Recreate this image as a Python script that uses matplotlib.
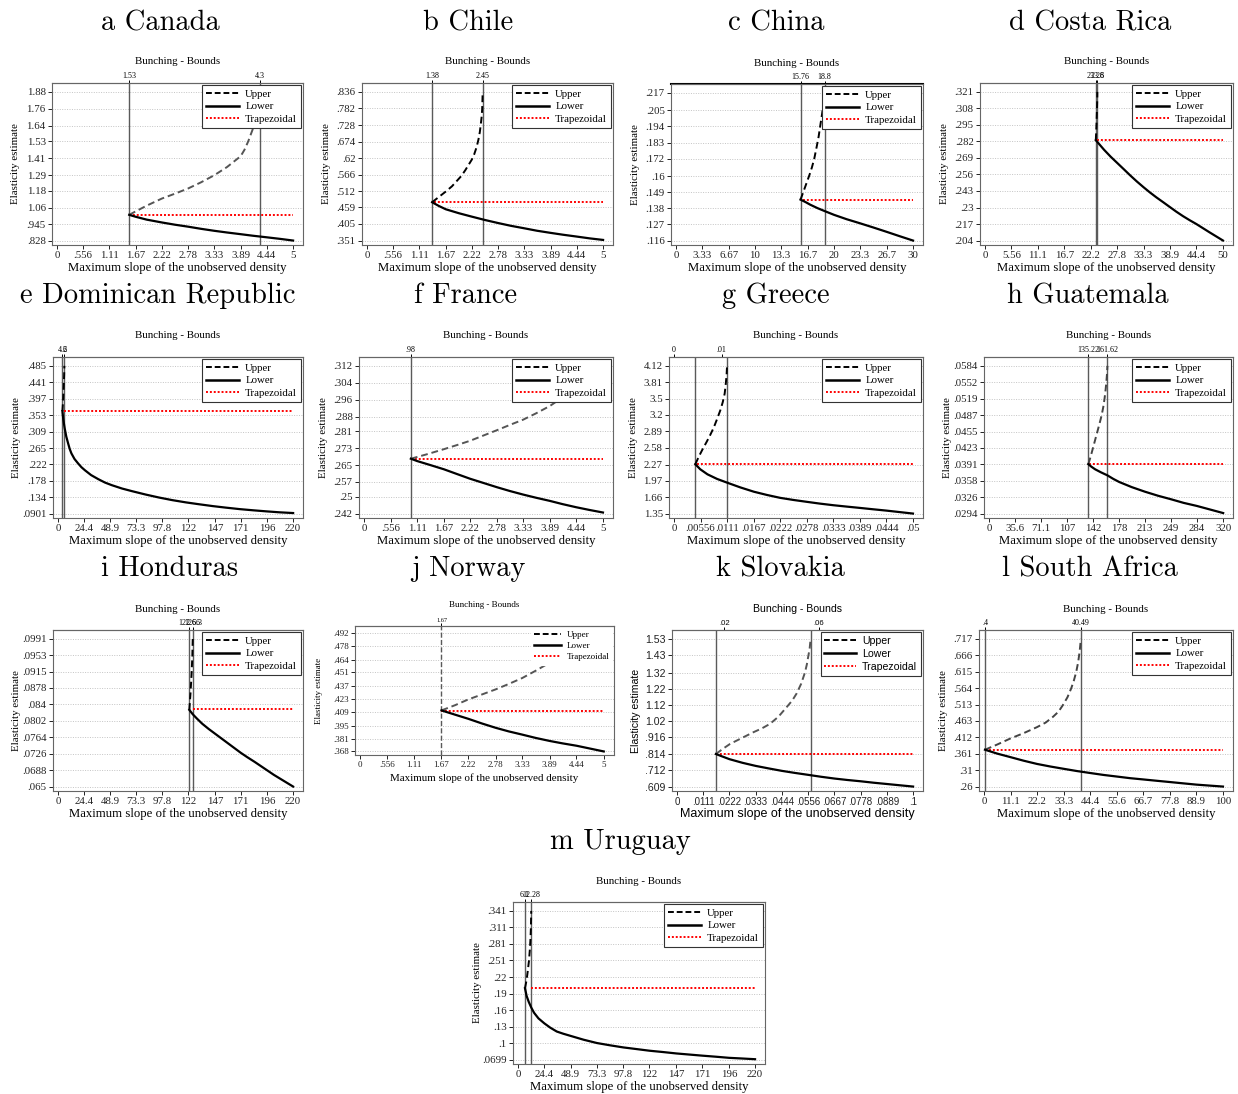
import matplotlib.pyplot as plt
from matplotlib.lines import Line2D

W, H = 1238, 1094

# ---------------- values ----------------
x_five = ["0", ".556", "1.11", "1.67", "2.22", "2.78", "3.33", "3.89", "4.44", "5"]
x_220 = ["0", "24.4", "48.9", "73.3", "97.8", "122", "147", "171", "196", "220"]

# a Canada
can_y = ["1.88", "1.76", "1.64", "1.53", "1.41", "1.29", "1.18", "1.06", ".945", ".828"]
can_bounds = [1.53, 4.3]
can_top = ["1.53", "4.3"]
can_up = [(1.53, 1.01), (1.67, 1.035), (1.9, 1.075), (2.22, 1.125), (2.5, 1.16),
          (2.78, 1.197), (3.05, 1.24), (3.33, 1.29), (3.6, 1.348), (3.89, 1.425),
          (3.97, 1.47), (4.05, 1.53), (4.15, 1.62), (4.25, 1.76), (4.3, 1.88)]
can_lo = [(1.53, 1.01), (1.67, .996), (1.9, .976), (2.22, .956), (2.5, .94),
          (2.78, .926), (3.05, .911), (3.33, .897), (3.6, .885), (3.89, .873),
          (4.15, .862), (4.44, .851), (4.72, .84), (5, .828)]
can_trap = 1.01

# b Chile
chi_y = [".836", ".782", ".728", ".674", ".62", ".566", ".512", ".459", ".405", ".351"]
chi_bounds = [1.38, 2.45]
chi_top = ["1.38", "2.45"]
chi_up = [(1.38, .476), (1.52, .493), (1.67, .511), (1.8, .528), (1.9, .545),
          (2.0, .562), (2.08, .58), (2.16, .6), (2.22, .615), (2.27, .632),
          (2.32, .655), (2.36, .68), (2.39, .705), (2.41, .73), (2.43, .757),
          (2.44, .78), (2.45, .836)]
chi_lo = [(1.38, .476), (1.52, .464), (1.67, .453), (1.95, .44), (2.22, .429),
          (2.5, .418), (2.78, .408), (3.05, .399), (3.33, .391), (3.6, .383),
          (3.89, .376), (4.15, .37), (4.44, .364), (4.72, .358), (5, .353)]
chi_trap = .476

# c China
chn_x = ["0", "3.33", "6.67", "10", "13.3", "16.7", "20", "23.3", "26.7", "30"]
chn_y = [".217", ".205", ".194", ".183", ".172", ".16", ".149", ".138", ".127", ".116"]
chn_bounds = [15.76, 18.8]
chn_top = ["15.76", "18.8"]
chn_up = [(15.76, .144), (16.1, .149), (16.5, .155), (16.9, .161), (17.2, .166),
          (17.5, .172), (17.8, .18), (18.05, .187), (18.3, .196), (18.5, .203),
          (18.65, .209), (18.75, .213), (18.8, .217)]
chn_lo = [(15.76, .144), (16.4, .1423), (17, .1405), (17.9, .1382), (18.8, .1362),
          (20, .1336), (21.6, .1306), (23.3, .1278), (25, .1249), (26.7, .1219),
          (28.3, .119), (30, .116)]
chn_trap = .144

# d Costa Rica
cri_x = ["0", "5.56", "11.1", "16.7", "22.2", "27.8", "33.3", "38.9", "44.4", "50"]
cri_y = [".321", ".308", ".295", ".282", ".269", ".256", ".243", ".23", ".217", ".204"]
cri_bounds = [23.28, 23.6]
cri_top = ["23.28", "23.6"]
cri_up = [(23.28, .283), (23.42, .295), (23.52, .307), (23.58, .315), (23.6, .321)]
cri_lo = [(23.28, .283), (24.2, .279), (25, .2755), (26.4, .27), (27.8, .265),
          (29.2, .26), (30.5, .2553), (31.9, .2505), (33.3, .246), (34.6, .242),
          (36, .238), (37.5, .234), (38.9, .2302), (40.2, .2267), (41.6, .2232),
          (43, .22), (44.4, .217), (45.8, .2137), (47.2, .2104), (48.6, .2072), (50, .204)]
cri_trap = .283

# e Dominican Republic
dom_y = [".485", ".441", ".397", ".353", ".309", ".265", ".222", ".178", ".134", ".0901"]
dom_bounds = [4.2, 6.0]
dom_top = ["4.2", "6"]
dom_up = [(4.2, .364), (4.8, .39), (5.4, .43), (5.8, .46), (6, .485)]
dom_lo = [(4.2, .364), (5, .342), (6.3, .318), (7.8, .296), (9.5, .278), (11, .263),
          (12.6, .251), (15.5, .236), (18.9, .224), (22, .214), (25.2, .206),
          (31, .193), (37.8, .182), (44, .173), (50.4, .166), (60, .157), (69.3, .15),
          (82, .141), (94.5, .133), (107, .126), (119.7, .12), (132, .115), (145, .11),
          (157, .106), (170, .102), (182, .099), (195, .096), (207, .0935), (220, .0915)]
dom_trap = .364

# f France
fra_y = [".312", ".304", ".296", ".288", ".281", ".273", ".265", ".257", ".25", ".242"]
fra_bounds = [0.98]
fra_top = [".98"]
fra_up = [(0.98, .268), (1.3, .270), (1.67, .2725), (1.95, .2745), (2.22, .2765),
          (2.5, .279), (2.78, .2815), (3.05, .284), (3.33, .2865), (3.6, .2895),
          (3.89, .293), (4.15, .297), (4.44, .301), (4.72, .3055), (5, .31)]
fra_lo = [(0.98, .268), (1.11, .2669), (1.4, .2649), (1.67, .263), (1.95, .2607),
          (2.22, .2585), (2.5, .2565), (2.78, .2545), (3.05, .2527), (3.33, .251),
          (3.6, .2495), (3.89, .248), (4.15, .2465), (4.44, .245), (4.72, .2437),
          (5, .2425)]
fra_trap = .268

# g Greece
grc_x = ["0", ".00556", ".0111", ".0167", ".0222", ".0278", ".0333", ".0389", ".0444", ".05"]
grc_y = ["4.12", "3.81", "3.5", "3.2", "2.89", "2.58", "2.27", "1.97", "1.66", "1.35"]
grc_bounds = [.00446, .0111]
grc_top = ["0", ".01"]
grc_up = [(.00446, 2.275), (.0052, 2.42), (.006, 2.56), (.0068, 2.69), (.0075, 2.81),
          (.0083, 2.96), (.009, 3.12), (.0097, 3.29), (.0102, 3.44), (.0106, 3.6),
          (.0108, 3.755), (.011, 3.95), (.0111, 4.12)]
grc_lo = [(.00446, 2.275), (.0055, 2.18), (.007, 2.086), (.009, 2.0), (.0111, 1.93),
          (.0139, 1.84), (.0167, 1.76), (.0194, 1.70), (.0222, 1.645), (.025, 1.605),
          (.0278, 1.57), (.0305, 1.537), (.0333, 1.507), (.0361, 1.481), (.0389, 1.456),
          (.0416, 1.431), (.0444, 1.406), (.0472, 1.378), (.05, 1.35)]
grc_trap = 2.275

# h Guatemala
gtm_x = ["0", "35.6", "71.1", "107", "142", "178", "213", "249", "284", "320"]
gtm_y = [".0584", ".0552", ".0519", ".0487", ".0455", ".0423", ".0391", ".0358", ".0326", ".0294"]
gtm_bounds = [135.8, 161.9]
gtm_top = ["135.22", "161.62"]
gtm_up = [(135.8, .0391), (139, .0406), (142, .0422), (145, .0438), (148, .0454),
          (151, .047), (154, .0487), (156.2, .0503), (158, .052), (159.4, .0537),
          (160.5, .0553), (161.3, .0568), (161.9, .0584)]
gtm_lo = [(135.8, .0391), (140, .0386), (145, .0381), (153, .0375), (161.9, .0369),
          (170, .0362), (178, .0356), (195, .0346), (213, .0337), (231, .0329),
          (249, .0322), (266, .0315), (284, .0309), (302, .0302), (320, .0295)]
gtm_trap = .0391

# i Honduras
hnd_y = [".0991", ".0953", ".0915", ".0878", ".084", ".0802", ".0764", ".0726", ".0688", ".065"]
hnd_bounds = [122.9, 126.1]
hnd_top = ["122.66", "126.3"]
hnd_up = [(122.9, .0827), (124, .0865), (125, .091), (125.7, .095), (126.1, .0991)]
hnd_lo = [(122.9, .0827), (126.1, .0817), (130, .0807), (135, .0795), (141, .0783),
          (147, .0772), (153, .0761), (159, .075), (165, .0739), (171, .0728),
          (177, .0718), (184, .0707), (190, .0697), (196, .0687), (202, .0677),
          (208, .0668), (214, .0659), (220, .065)]
hnd_trap = .0829

# j Norway
nor_y = [".492", ".478", ".464", ".451", ".437", ".423", ".409", ".395", ".381", ".368"]
nor_bounds = [1.67]
nor_top = ["1.67"]
nor_up = [(1.67, .411), (1.95, .4165), (2.22, .4225), (2.5, .4277), (2.78, .433),
          (3.05, .4387), (3.33, .445), (3.6, .4525), (3.89, .461), (4.44, .476),
          (5, .492)]
nor_lo = [(1.67, .411), (1.95, .4065), (2.22, .4022), (2.5, .3973), (2.78, .3928),
          (3.05, .389), (3.33, .3856), (3.6, .3822), (3.89, .379), (4.15, .3765),
          (4.44, .374), (4.72, .371), (5, .368)]
nor_trap = .410

# k Slovakia
svk_x = ["0", ".0111", ".0222", ".0333", ".0444", ".0556", ".0667", ".0778", ".0889", ".1"]
svk_y = ["1.53", "1.43", "1.32", "1.22", "1.12", "1.02", ".916", ".814", ".712", ".609"]
svk_bounds = [.0165, .0566]
svk_top = [".02", ".06"]
svk_up = [(.0165, .812), (.0195, .845), (.0225, .875), (.0275, .912), (.0324, .948),
          (.036, .972), (.0394, 1.0), (.043, 1.045), (.0465, 1.105), (.0488, 1.145),
          (.0507, 1.19), (.0526, 1.25), (.0542, 1.32), (.055, 1.37), (.0556, 1.42),
          (.0562, 1.47), (.0566, 1.53)]
svk_lo = [(.0165, .812), (.0195, .795), (.0222, .78), (.0278, .757), (.0333, .738),
          (.0389, .722), (.0444, .707), (.05, .694), (.0556, .682), (.0611, .67),
          (.0667, .659), (.0722, .65), (.0778, .642), (.0833, .633), (.0889, .625),
          (.0944, .617), (.1, .609)]
svk_trap = .81

# l South Africa
zaf_x = ["0", "11.1", "22.2", "33.3", "44.4", "55.6", "66.7", "77.8", "88.9", "100"]
zaf_y = [".717", ".666", ".615", ".564", ".513", ".463", ".412", ".361", ".31", ".26"]
zaf_bounds = [0.4, 40.49]
zaf_top = [".4", "40.49"]
zaf_up = [(.4, .374), (5.5, .39), (11.1, .409), (16.5, .425), (22.2, .444),
          (25.8, .458), (28.9, .476), (31.2, .492), (33, .512), (34.9, .536),
          (36.5, .564), (37.6, .588), (38.6, .615), (39.4, .645), (40, .677),
          (40.3, .698), (40.49, .717)]
zaf_lo = [(.4, .374), (5.5, .362), (11.1, .351), (16.6, .34), (22.2, .33),
          (27.8, .322), (33.3, .315), (38.9, .308), (44.4, .302), (50, .296),
          (55.6, .291), (61.1, .286), (66.7, .282), (72.2, .278), (77.8, .274),
          (83.3, .27), (88.9, .266), (94.4, .263), (100, .26)]
zaf_trap = .374

# m Uruguay
ury_y = [".341", ".311", ".281", ".251", ".22", ".19", ".16", ".13", ".1", ".0699"]
ury_bounds = [6.5, 12.3]
ury_top = ["6.1", "12.28"]
ury_up = [(6.5, .2), (8, .215), (9, .23), (10.2, .25), (11, .27), (11.6, .29),
          (12, .31), (12.3, .341)]
ury_lo = [(6.5, .2), (8, .186), (10, .175), (12.5, .164), (15, .155), (19, .145),
          (24.4, .136), (30, .128), (36, .121), (42, .117), (48.9, .113), (61, .106),
          (73.3, .1), (85, .096), (97.8, .092), (110, .089), (122, .086), (135, .0835),
          (147, .081), (159, .079), (171, .077), (184, .075), (196, .073), (208, .0718),
          (220, .0705)]
ury_trap = .2

fig = plt.figure(figsize=(W / 100, H / 100), dpi=100)


def fx(px):
    return px / W


def fy(py):
    return 1 - py / H


def panel(title, tpos, box, xt, yt, bounds, top_lab, up, lo, trap, trap_x0,
          up_col='black', font='Liberation Serif', fs=7.8, xfs=None, vdash=False,
          leg_frame=True, top_black=False):
    l, t, r, b = box
    ax = fig.add_axes([fx(l), fy(b), (r - l) / W, (b - t) / H])
    xv = [float(s) for s in xt]
    yv = [float(s) for s in yt]
    x0, x1 = min(xv), max(xv)
    y0, y1 = min(yv), max(yv)
    ax.set_xlim(x0 - .021 * (x1 - x0), x1 + .042 * (x1 - x0))
    ax.set_ylim(y0 - .03 * (y1 - y0), y1 + .06 * (y1 - y0))

    for y in yv:
        ax.axhline(y, color='#c4c4c4', lw=0.7, ls=(0, (1, 1.5)), zorder=0)
    for v in bounds:
        ax.axvline(v, color='#5a5a5a', lw=1.0, ls='--' if vdash else '-', zorder=1)

    ax.plot([trap_x0, x1], [trap, trap], color='red', lw=1.4, ls=(0, (1, 1)), zorder=2)
    ax.plot([p[0] for p in up], [p[1] for p in up], color=up_col, lw=1.4,
            ls=(0, (3.5, 2)), zorder=3)
    ax.plot([p[0] for p in lo], [p[1] for p in lo], color='black', lw=1.6, zorder=3)

    ax.set_xticks(xv, xt, fontsize=xfs or fs, family=font)
    ax.set_yticks(yv, yt, fontsize=fs, family=font)
    ax.tick_params(length=3, width=0.7, pad=1.5, colors='#222')
    for s in ax.spines.values():
        s.set_color('#666')
        s.set_linewidth(0.8)

    top = ax.secondary_xaxis('top')
    top.set_xticks([float(s) for s in top_lab], top_lab, fontsize=fs - 2, family=font)
    top.tick_params(length=2, width=0.7, pad=0.5)
    if top_black:
        top.spines['top'].set_color('black')
        top.spines['top'].set_linewidth(1.5)
    else:
        top.spines['top'].set_color('#666')

    cx = (l + r) / 2
    fig.text(fx(cx), fy(t - 21), 'Bunching - Bounds', ha='center', va='center',
             fontsize=fs, family=font)
    fig.text(fx(cx), fy(b + 23), 'Maximum slope of the unobserved density',
             ha='center', va='center', fontsize=fs + 1.4, family=font)
    fig.text(fx(l - 36), fy((t + b) / 2), 'Elasticity estimate', ha='center',
             va='center', rotation=90, fontsize=fs, family=font)
    fig.text(fx(tpos[0]), fy(tpos[1] + 3), title, ha='center', va='center',
             fontsize=20.5, family='cmr10')

    handles = [Line2D([], [], color='black', lw=1.4, ls=(0, (3, 1.5))),
               Line2D([], [], color='black', lw=1.8),
               Line2D([], [], color='red', lw=1.4, ls=(0, (1, 1)))]
    leg = ax.legend(handles, ['Upper', 'Lower', 'Trapezoidal'], loc='upper right',
                    fancybox=False, framealpha=1, prop={'family': font, 'size': fs},
                    handlelength=3.0, borderaxespad=0.2, borderpad=0.35,
                    labelspacing=0.3, handletextpad=0.6, frameon=True)
    leg.get_frame().set_edgecolor('#333' if leg_frame else 'white')
    leg.get_frame().set_linewidth(0.8)
    leg.set_zorder(10)
    return ax


panel("a Canada", (160, 20), (52, 83, 303, 245), x_five, can_y, can_bounds, can_top,
      can_up, can_lo, can_trap, 1.53, up_col='#555')
panel("b Chile", (468, 20), (362, 83, 613, 245), x_five, chi_y, chi_bounds, chi_top,
      chi_up, chi_lo, chi_trap, 1.41)
panel("c China", (776, 20), (671, 84, 923, 245), chn_x, chn_y, chn_bounds, chn_top,
      chn_up, chn_lo, chn_trap, 16.1, top_black=True)
panel("d Costa Rica", (1090, 20), (980, 83, 1233, 245), cri_x, cri_y, cri_bounds, cri_top,
      cri_up, cri_lo, cri_trap, 23.6)
panel("e Dominican Republic", (158, 293), (53, 357, 303, 518), x_220, dom_y, dom_bounds,
      dom_top, dom_up, dom_lo, dom_trap, 6.0)
panel("f France", (466, 293), (359, 357, 613, 518), x_five, fra_y, fra_bounds, fra_top,
      fra_up, fra_lo, fra_trap, 0.98, up_col='#555')
panel("g Greece", (776, 293), (669, 357, 923, 518), grc_x, grc_y, grc_bounds, grc_top,
      grc_up, grc_lo, grc_trap, .0048)
panel("h Guatemala", (1088, 293), (984, 357, 1233, 518), gtm_x, gtm_y, gtm_bounds, gtm_top,
      gtm_up, gtm_lo, gtm_trap, 137, up_col='#444')
panel("i Honduras", (170, 566), (53, 630, 303, 791), x_220, hnd_y, hnd_bounds, hnd_top,
      hnd_up, hnd_lo, hnd_trap, 126.1)
panel("j Norway", (468, 566), (355, 626, 614, 755), x_five, nor_y, nor_bounds, nor_top,
      nor_up, nor_lo, nor_trap, 1.67, up_col='#555', fs=6.5, vdash=True, leg_frame=False)
panel("k Slovakia", (780, 566), (672, 630, 923, 791), svk_x, svk_y, svk_bounds, svk_top,
      svk_up, svk_lo, svk_trap, .0165, up_col='#555', font='Liberation Sans', fs=7.6,
      xfs=7.0)
panel("l South Africa", (1090, 566), (979, 630, 1233, 791), zaf_x, zaf_y, zaf_bounds,
      zaf_top, zaf_up, zaf_lo, zaf_trap, 2, up_col='#444')
panel("m Uruguay", (620, 839), (513, 902, 765, 1064), x_220, ury_y, ury_bounds, ury_top,
      ury_up, ury_lo, ury_trap, 12.3)

fig.savefig('out.png', dpi=100)
